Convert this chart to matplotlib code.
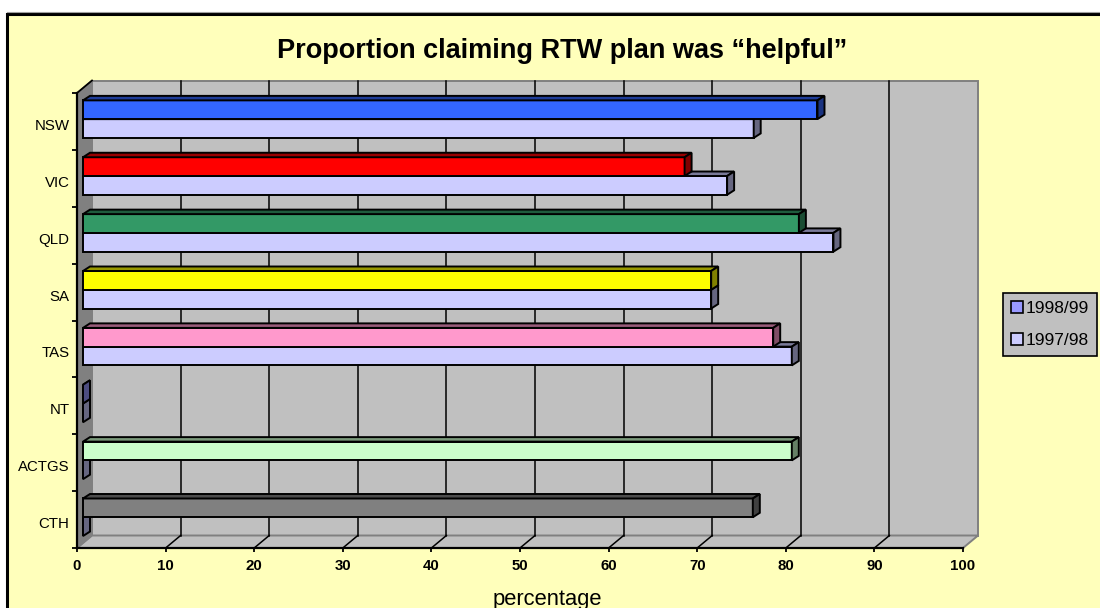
import matplotlib
matplotlib.use("Agg")
import matplotlib.pyplot as plt
from matplotlib.patches import Rectangle, Polygon, Patch
from matplotlib.colors import to_rgb

plt.rcParams['font.family'] = ['Liberation Sans', 'DejaVu Sans']

# ---- data ---------------------------------------------------------------
categories = ['NSW', 'VIC', 'QLD', 'SA', 'TAS', 'NT', 'ACTGS', 'CTH']
series_names = ['1998/99', '1997/98']
values_9899 = [82.9, 67.9, 80.8, 70.9, 77.9, 0.0, 80.0, 75.6]
values_9798 = [75.7, 72.7, 84.7, 70.9, 80.0, 0.0, 0.0, 0.0]
colors_9899 = ['#3366FF', '#FF0000', '#339966', '#FFFF00', '#FF99CC',
               '#9999FF', '#CCFFCC', '#808080']
color_9798 = '#CCCCFF'
legend_colors = ['#9999FF', '#CCCCFF']
x_ticks = list(range(0, 101, 10))

# ---- figure -------------------------------------------------------------
W, H = 1100, 608
fig = plt.figure(figsize=(W / 100, H / 100), dpi=100, facecolor='white')

# chart-area background with frame (pixel coordinates)
bg = fig.add_axes([0, 0, 1, 1], zorder=-5)
bg.set_xlim(0, W)
bg.set_ylim(H, 0)
bg.axis('off')
bg.add_patch(Rectangle((7, 14), W + 20, H + 20, facecolor='#FFFFBB',
                       edgecolor='black', lw=2.2))
bg.plot([7, W], [11.8, 11.8], color='#A0A0A0', lw=0.8)

# front plane of the 3-D plot
px_left, px_right, px_top, px_bottom = 77, 963, 93, 548
ax = fig.add_axes([px_left / W, 1 - px_bottom / H,
                   (px_right - px_left) / W, (px_bottom - px_top) / H])
n = len(categories)
ax.set_xlim(0, 100)
ax.set_ylim(0, n)
ax.patch.set_visible(False)

ux = (px_right - px_left) / 100.0      # pixels per x unit
uy = (px_bottom - px_top) / n          # pixels per category band


def off(dx_px, dy_px):
    return dx_px / ux, dy_px / uy


wdx, wdy = off(15, 12.5)    # wall depth
bx, by = off(6, 4)          # bar position inside the depth
bdx, bdy = off(7, 4.5)      # bar thickness in depth

wall_col = '#C0C0C0'
wall_edge = '#808080'

# back wall
ax.add_patch(Rectangle((wdx, wdy), 100, n, facecolor=wall_col,
                       edgecolor=wall_edge, lw=1.4, clip_on=False, zorder=0.5))
# floor
ax.add_patch(Polygon([(0, 0), (100, 0), (100 + wdx, wdy), (wdx, wdy)],
                     closed=True, facecolor=wall_col, edgecolor=wall_edge,
                     lw=1.4, clip_on=False, zorder=0.6))
# side wall
ax.add_patch(Polygon([(0, 0), (0, n), (wdx, n + wdy), (wdx, wdy)],
                     closed=True, facecolor='#808080', edgecolor=wall_edge,
                     lw=1.0, clip_on=False, zorder=0.7))
ax.plot([0, wdx], [n, n + wdy], color='black', lw=1.3, clip_on=False, zorder=0.8)

# gridlines on back wall and floor
for v in x_ticks[1:-1]:
    ax.plot([v + wdx, v + wdx], [wdy, n + wdy], color='black', lw=1.1,
            clip_on=False, zorder=0.9)
    ax.plot([v, v + wdx], [0, wdy], color='black', lw=1.1,
            clip_on=False, zorder=0.9)


def shade(c, f=0.55):
    r, g, b = to_rgb(c)
    return (r * f, g * f, b * f)


def bar3d(value, y0, h, color):
    x0 = bx
    yb = y0 + by
    yt = yb + h
    xe = x0 + value
    kw = dict(edgecolor='black', lw=1.4, clip_on=False, zorder=3,
              joinstyle='miter')
    ax.add_patch(Rectangle((x0, yb), value, h, facecolor=color, **kw))
    ax.add_patch(Polygon([(x0, yt), (xe, yt), (xe + bdx, yt + bdy),
                          (x0 + bdx, yt + bdy)], closed=True,
                         facecolor=shade(color, 0.6), **kw))
    ax.add_patch(Polygon([(xe, yb), (xe + bdx, yb + bdy),
                          (xe + bdx, yt + bdy), (xe, yt)], closed=True,
                         facecolor=shade(color, 0.5), **kw))


bar_h = 0.33
for i, cat in enumerate(categories):
    base = n - 1 - i
    bar3d(values_9798[i], base + 0.14, bar_h, color_9798)
    bar3d(values_9899[i], base + 0.14 + bar_h, bar_h, colors_9899[i])

# axes, ticks and labels
for s in ['top', 'right']:
    ax.spines[s].set_visible(False)
for s in ['left', 'bottom']:
    ax.spines[s].set_color('black')
    ax.spines[s].set_linewidth(1.6)
    ax.spines[s].set_zorder(2)

ax.set_xticks(x_ticks)
ax.set_xticklabels([str(t) for t in x_ticks], fontsize=10.8, fontweight='bold')
ax.tick_params(axis='x', direction='out', length=3, width=1.3, pad=5.2,
               color='black')
ax.set_yticks(range(n + 1))
ax.set_yticklabels([''] * (n + 1))
ax.tick_params(axis='y', which='major', direction='out', length=3.6, width=1.3,
               color='black')
label_shift = 3 / uy
ax.set_yticks([n - 1 - i + 0.5 - label_shift for i in range(n)], minor=True)
ax.set_yticklabels(categories, minor=True, fontsize=10.8)
ax.tick_params(axis='y', which='minor', length=0, pad=5.4)

fig.text(562 / W, 1 - 57.7 / H, 'Proportion claiming RTW plan was \u201chelpful\u201d',
         ha='center', va='baseline', fontsize=19.5, fontweight='bold')
fig.text(547 / W, 1 - 605 / H, 'percentage', ha='center', va='baseline',
         fontsize=15.8)

handles = [Patch(facecolor=c, edgecolor='black', lw=1.2) for c in legend_colors]
leg = fig.legend(handles, series_names, loc='upper left',
                 bbox_to_anchor=(1003 / W, 1 - 293 / H),
                 bbox_transform=fig.transFigure, borderaxespad=0,
                 fontsize=12.5, frameon=True, fancybox=False, framealpha=1,
                 facecolor='#C0C0C0', edgecolor='black',
                 handlelength=0.72, handleheight=0.72, handletextpad=0.15,
                 labelspacing=0.95, borderpad=0.45)
leg.get_frame().set_linewidth(1.2)

fig.savefig('out.png', dpi=100, facecolor=fig.get_facecolor())
